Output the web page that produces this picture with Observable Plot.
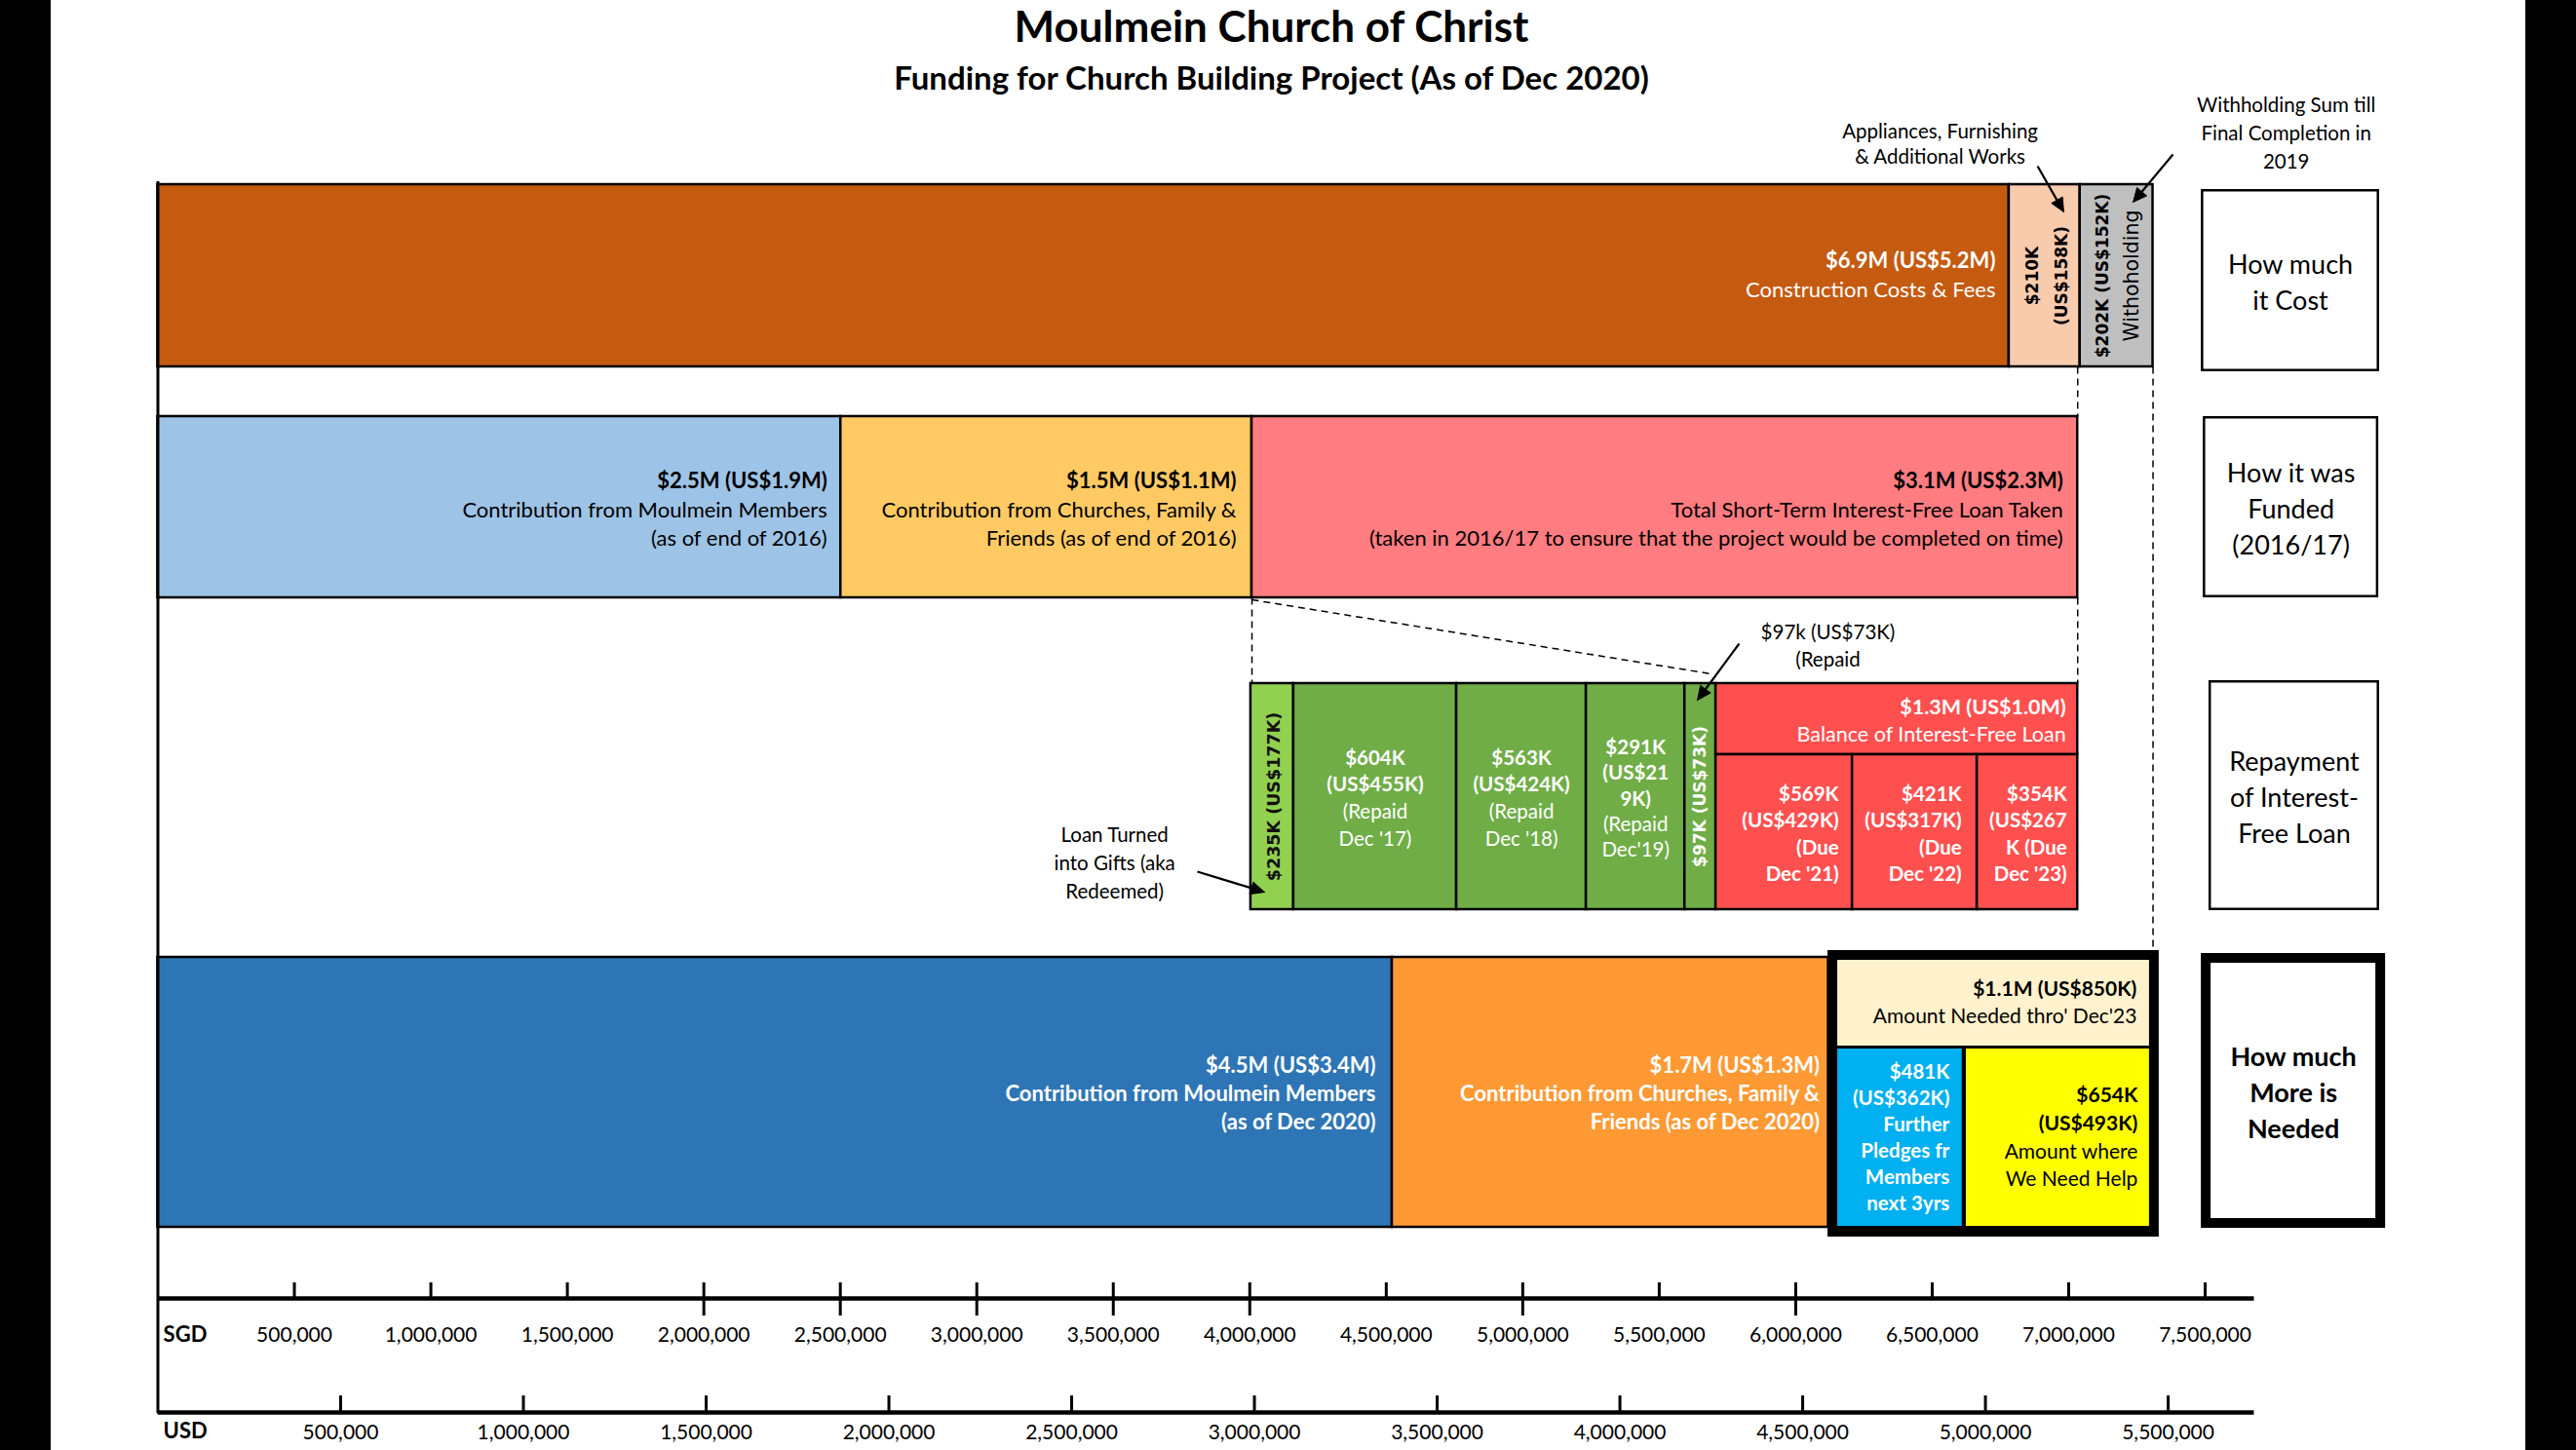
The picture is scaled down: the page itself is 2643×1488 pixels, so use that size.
<!DOCTYPE html>
<html><head><meta charset="utf-8">
<script src="https://cdn.jsdelivr.net/npm/d3@7"></script>
<script src="https://cdn.jsdelivr.net/npm/@observablehq/plot@0.6"></script>
<style>
html,body{margin:0;padding:0;background:#000;}
#page{position:absolute;left:52px;top:0;width:2539px;height:1488px;background:#fff;}
#title{position:relative;left:-17px;height:54px;line-height:54px;text-align:center;font:700 44px Lato, sans-serif;color:#000;}
#subtitle{position:relative;left:-17px;top:5px;height:52px;line-height:52px;text-align:center;font:700 33px Lato, sans-serif;color:#000;}
#chart svg{display:block;}
</style></head>
<body>
<div id="page">
  <div id="title">Moulmein Church of Christ</div>
  <div id="subtitle">Funding for Church Building Project (As of Dec 2020)</div>
  <div id="chart"></div>
</div>
<script>
// ---------------- DATA (SGD; bar edges) ----------------
const sgdTicks = [500000, 1000000, 1500000, 2000000, 2500000, 3000000, 3500000, 4000000,
                  4500000, 5000000, 5500000, 6000000, 6500000, 7000000, 7500000];
const sgdLongTicks = [2000000, 2500000, 3000000, 3500000, 4000000, 5000000, 6000000];
const usdTicks = [500000, 1000000, 1500000, 2000000, 2500000, 3000000, 3500000,
                  4000000, 4500000, 5000000, 5500000];
const usdRate = 1.339;      // SGD per USD (spacing of the two axes)
const axisEnd = 7680000;

const costBars = [
  {id: "construction", x1: 0, x2: 6782000, label: ["$6.9M (US$5.2M)", "Construction Costs & Fees"]},
  {id: "appliances", x1: 6782000, x2: 7042000, label: ["$210K", "(US$158K)"]},
  {id: "withholding", x1: 7042000, x2: 7309000, label: ["$202K (US$152K)", "Withoholding"]}
];
const fundedBars = [
  {id: "members2016", x1: 0, x2: 2502000, label: ["$2.5M (US$1.9M)", "Contribution from Moulmein Members", "(as of end of 2016)"]},
  {id: "churches2016", x1: 2502000, x2: 4008000, label: ["$1.5M (US$1.1M)", "Contribution from Churches, Family &", "Friends (as of end of 2016)"]},
  {id: "loan", x1: 4008000, x2: 7033000, label: ["$3.1M (US$2.3M)", "Total Short-Term Interest-Free Loan Taken", "(taken in 2016/17 to ensure that the project would be completed on time)"]}
];
const repayBars = [
  {id: "gift", part: "full", x1: 4004000, x2: 4161000, label: ["$235K (US$177K)"]},
  {id: "repaid17", part: "full", x1: 4161000, x2: 4758000, label: ["$604K", "(US$455K)", "(Repaid", "Dec '17)"]},
  {id: "repaid18", part: "full", x1: 4758000, x2: 5233000, label: ["$563K", "(US$424K)", "(Repaid", "Dec '18)"]},
  {id: "repaid19", part: "full", x1: 5233000, x2: 5594000, label: ["$291K", "(US$21", "9K)", "(Repaid", "Dec'19)"]},
  {id: "repaid97", part: "full", x1: 5594000, x2: 5708000, label: ["$97K (US$73K)"]},
  {id: "balance", part: "top", x1: 5708000, x2: 7033000, label: ["$1.3M (US$1.0M)", "Balance of Interest-Free Loan"]},
  {id: "due21", part: "bottom", x1: 5708000, x2: 6208000, label: ["$569K", "(US$429K)", "(Due", "Dec '21)"]},
  {id: "due22", part: "bottom", x1: 6208000, x2: 6665000, label: ["$421K", "(US$317K)", "(Due", "Dec '22)"]},
  {id: "due23", part: "bottom", x1: 6665000, x2: 7033000, label: ["$354K", "(US$267", "K (Due", "Dec '23)"]}
];
const neededBars = [
  {id: "members2020", part: "full", x1: 0, x2: 4522000, label: ["$4.5M (US$3.4M)", "Contribution from Moulmein Members", "(as of Dec 2020)"]},
  {id: "churches2020", part: "full", x1: 4522000, x2: 6120000, label: ["$1.7M (US$1.3M)", "Contribution from Churches, Family &", "Friends (as of Dec 2020)"]},
  {id: "neededTotal", part: "top", x1: 6154000, x2: 7296000, label: ["$1.1M (US$850K)", "Amount Needed thro' Dec'23"]},
  {id: "pledges", part: "bottom", x1: 6154000, x2: 6610000, label: ["$481K", "(US$362K)", "Further", "Pledges fr", "Members", "next 3yrs"]},
  {id: "help", part: "bottom", x1: 6625000, x2: 7296000, label: ["$654K", "(US$493K)", "Amount where", "We Need Help"]}
];
const rowTitles = [
  {row: "cost", text: "How much\nit Cost"},
  {row: "funded", text: "How it was\nFunded\n(2016/17)"},
  {row: "repay", text: "Repayment\nof Interest-\nFree Loan"},
  {row: "needed", text: "How much\nMore is\nNeeded"}
];
const notes = [
  {text: "Appliances, Furnishing\n& Additional Works"},
  {text: "Withholding Sum till\nFinal Completion in\n2019"},
  {text: "$97k (US$73K)\n(Repaid"},
  {text: "Loan Turned\ninto Gifts (aka\nRedeemed)"}
];

// ---------------- LAYOUT & STYLE ----------------
const pageTop = 106, pageH = 1488, W = 2539;
const pxPerM = 280.07, x0px = 109.5;
const rows = {
  cost: [189, 376], funded: [427, 613], repay: [701, 933], needed: [982, 1259]
};
const repayPart = {full: [701, 933], top: [701, 774], bottom: [774, 933]};
const neededPart = {full: [982, 1259], top: [985, 1073], bottom: [1076, 1258]};
const neededFrameY = [975, 1269];
const titleBoxes = {
  cost: {x1: 7486000, x2: 8139000, y: [194, 381], w: 2.5, bold: false},
  funded: {x1: 7493000, x2: 8136000, y: [427, 613], w: 2.5, bold: false},
  repay: {x1: 7514000, x2: 8139000, y: [698, 934], w: 2.5, bold: false},
  needed: {x1: 7486000, x2: 8161000, y: [978, 1260], w: 10, bold: true}
};
const noteLayout = [
  {x: 6529000, y: 146, lh: 1.3},
  {x: 7797000, y: 134.5, lh: 1.4},
  {x: 6118000, y: 661, lh: 1.36},
  {x: 3505000, y: 883, lh: 1.41}
];
const arrowLayout = [
  {x1: 6886000, y1: 170, x2: 6982000, y2: 217},
  {x1: 7382000, y1: 158, x2: 7236000, y2: 207},
  {x1: 5793000, y1: 660, x2: 5640000, y2: 718},
  {x1: 3808000, y1: 894, x2: 4054000, y2: 915}
];
const fills = {
  construction: "#C55A11", appliances: "#F8CBAD", withholding: "#BFBFBF",
  members2016: "#9DC3E6", churches2016: "#FFCA64", loan: "#FF7C80",
  gift: "#92D050", repaid17: "#70AD47", repaid18: "#70AD47", repaid19: "#70AD47", repaid97: "#70AD47",
  balance: "#FF5050", due21: "#FF5050", due22: "#FF5050", due23: "#FF5050",
  members2020: "#2E75B6", churches2020: "#FF9933", neededTotal: "#FFF2CC", pledges: "#00B0F0", help: "#FFFF00"
};
const sans = "Lato, 'Open Sans', sans-serif";
const verd = "'DejaVu Sans', Verdana, sans-serif";
const T = (o) => Object.assign({align: "end", color: "#000", bold: 1, size: 22, lh: 29, shift: 0, dx: -14, font: sans}, o);
const textStyle = {
  construction: T({color: "#fff", lh: 30}),
  appliances: T({align: "rotate", bold: 2, size: 17, lh: 30, dxr: 2.5, font: verd}),
  withholding: T({align: "rotate", bold: 1, size: 17, lh: 30, dxr: 1, font: verd, sizes: [17, 20.5]}),
  members2016: T({lh: 29.5, shift: 3}),
  churches2016: T({lh: 29.5, shift: 3, dx: -16}),
  loan: T({lh: 29.5, shift: 3, dx: -15}),
  gift: T({align: "rotate", color: "#111", size: 17.5, font: verd, dxr: 2}),
  repaid17: T({align: "middle", color: "#fff", bold: 2, size: 20.5, lh: 27.7, shift: 2}),
  repaid18: T({align: "middle", color: "#fff", bold: 2, size: 20.5, lh: 27.7, shift: 2}),
  repaid19: T({align: "middle", color: "#fff", bold: 3, size: 20.5, lh: 26.3, shift: 2.5}),
  repaid97: T({align: "rotate", color: "#fff", size: 17, font: verd}),
  balance: T({color: "#fff", size: 21.5, lh: 28, shift: 2.5, dx: -12}),
  due21: T({color: "#fff", bold: 4, size: 20.5, lh: 27.3, shift: 2.5}),
  due22: T({color: "#fff", bold: 4, size: 20.5, lh: 27.3, shift: 2.5, dx: -16}),
  due23: T({color: "#fff", bold: 4, size: 20.5, lh: 27.3, shift: 2.5, dx: -11}),
  members2020: T({color: "#fff", bold: 3, lh: 29, shift: 1.5, dx: -17}),
  churches2020: T({color: "#fff", bold: 3, lh: 29, shift: 1.5, dx: -9}),
  neededTotal: T({size: 21, lh: 28, dx: -13}),
  pledges: T({color: "#fff", bold: 6, size: 20.5, lh: 27, dx: -13}),
  help: T({bold: 2, size: 21, lh: 28.7, dx: -12})
};

// ---------------- MARK HELPERS ----------------
function barRects(bars, band, stroke = true) {
  return Plot.rect(bars, {
    x1: "x1", x2: "x2", y1: d => band(d)[0], y2: d => band(d)[1],
    fill: d => fills[d.id], stroke: stroke ? "#000" : null, strokeWidth: 2.5
  });
}
function barTexts(bars, band) {
  const marks = [];
  for (const b of bars) {
    const s = textStyle[b.id];
    const [y1, y2] = band(b);
    const yc = (y1 + y2) / 2 + s.shift;
    const n = b.label.length;
    b.label.forEach((line, i) => {
      const off = i - (n - 1) / 2;
      const rot = s.align === "rotate";
      marks.push(Plot.text([b], {
        x: s.align === "end" ? "x2" : d => (d.x1 + d.x2) / 2,
        y: () => rot ? yc : yc + off * s.lh,
        dx: s.align === "end" ? s.dx : rot ? off * s.lh + (s.dxr || 0) : 0,
        text: () => line,
        rotate: rot ? -90 : 0,
        textAnchor: s.align === "end" ? "end" : "middle",
        fill: s.color, fontFamily: s.font, fontSize: s.sizes ? s.sizes[i] : s.size,
        fontWeight: i < s.bold ? "bold" : "normal"
      }));
    });
  }
  return marks;
}
const fmt = d3.format(",");
const costBand = () => rows.cost;
const fundedBand = () => rows.funded;
const repayBand = d => repayPart[d.part];
const neededBand = d => neededPart[d.part];
const byId = (arr, id) => arr.find(d => d.id === id);

const loan = byId(fundedBars, "loan");
const withholding = byId(costBars, "withholding");
const repaid97 = byId(repayBars, "repaid97");
const dashes = [
  {x1: loan.x2, y1: rows.cost[1], x2: loan.x2, y2: rows.funded[0]},
  {x1: withholding.x2, y1: rows.cost[1], x2: withholding.x2, y2: neededFrameY[0]},
  {x1: loan.x1, y1: rows.funded[1], x2: loan.x1, y2: rows.repay[0]},
  {x1: loan.x2, y1: rows.funded[1], x2: loan.x2, y2: rows.repay[0]},
  {x1: loan.x1, y1: rows.funded[1] + 2, x2: repaid97.x2 - 18000, y2: rows.repay[0] - 10}
];
const neededTotal = byId(neededBars, "neededTotal");

// arrow shafts + filled heads (geometry in screen px, converted back to data units)
const headLen = 14, headHalf = 6.5;
const shafts = [], heads = [];
arrowLayout.forEach((a, k) => {
  const dxp = (a.x2 - a.x1) * pxPerM / 1e6, dyp = a.y2 - a.y1;
  const L = Math.hypot(dxp, dyp), ux = dxp / L, uy = dyp / L;
  const toX = px => px * 1e6 / pxPerM;
  const bx = a.x2 - toX(ux * headLen), by = a.y2 - uy * headLen;
  shafts.push({x1: a.x1, y1: a.y1, x2: bx, y2: by});
  heads.push({k, x: a.x2, y: a.y2});
  heads.push({k, x: bx + toX(-uy * headHalf), y: by + ux * headHalf});
  heads.push({k, x: bx - toX(-uy * headHalf), y: by - ux * headHalf});
  heads.push({k, x: a.x2, y: a.y2});
});

const marks = [
  // bars
  barRects(costBars, costBand),
  barRects(fundedBars, fundedBand),
  barRects(repayBars, repayBand),
  barRects(neededBars.filter(d => d.part === "full"), neededBand),
  Plot.rect([neededTotal], {x1: "x1", x2: "x2", y1: () => neededFrameY[0], y2: () => neededFrameY[1],
    fill: "#000", insetLeft: -10, insetRight: -10}),
  barRects(neededBars.filter(d => d.part !== "full"), neededBand, false),
  // dashed connectors
  Plot.link(dashes, {x1: "x1", y1: "y1", x2: "x2", y2: "y2", stroke: "#000", strokeWidth: 1.5, strokeDasharray: "7,5"}),
  // bar labels
  ...barTexts(costBars, costBand),
  ...barTexts(fundedBars, fundedBand),
  ...barTexts(repayBars, repayBand),
  ...barTexts(neededBars, neededBand),
  // row title boxes
  ...rowTitles.map(r => {
    const b = titleBoxes[r.row];
    return [
      Plot.rect([r], {x1: () => b.x1, x2: () => b.x2, y1: () => b.y[0], y2: () => b.y[1],
        fill: "#fff", stroke: "#000", strokeWidth: b.w, inset: b.w / 2}),
      Plot.text([r], {x: () => (b.x1 + b.x2) / 2, y: () => (b.y[0] + b.y[1]) / 2,
        text: "text", fontFamily: sans, fontSize: 27, lineHeight: 1.37,
        fontWeight: b.bold ? "bold" : "normal", fill: "#000"})
    ];
  }).flat(),
  // annotations
  ...notes.map((n, i) => Plot.text([n], {x: () => noteLayout[i].x, y: () => noteLayout[i].y, text: "text",
    fontFamily: sans, fontSize: 20.5, lineHeight: noteLayout[i].lh, fill: "#000"})),
  Plot.link(shafts, {x1: "x1", y1: "y1", x2: "x2", y2: "y2", stroke: "#000", strokeWidth: 2.2}),
  Plot.line(heads, {x: "x", y: "y", z: "k", fill: "#000", stroke: "#000", strokeWidth: 1}),
  // left baseline
  Plot.ruleX([0], {y1: () => 186, y2: () => 1450, stroke: "#000", strokeWidth: 3}),
  // SGD axis
  Plot.ruleY([1332], {x1: () => 0, x2: () => axisEnd, y: d => d, stroke: "#000", strokeWidth: 4.5}),
  Plot.ruleX(sgdTicks, {x: d => d, y1: () => 1316, y2: d => sgdLongTicks.includes(d) ? 1350 : 1332, stroke: "#000", strokeWidth: 3}),
  Plot.text(sgdTicks, {x: d => d, y: () => 1370, text: d => fmt(d), fontFamily: sans, fontSize: 21, fill: "#000"}),
  Plot.text(["SGD"], {x: () => 20000, y: () => 1369, text: d => d, textAnchor: "start", fontFamily: sans, fontSize: 22, fontWeight: "bold", fill: "#000"}),
  // USD axis
  Plot.ruleY([1449], {x1: () => 0, x2: () => axisEnd, y: d => d, stroke: "#000", strokeWidth: 4.5}),
  Plot.ruleX(usdTicks, {x: d => d * usdRate, y1: () => 1432, y2: () => 1449, stroke: "#000", strokeWidth: 3}),
  Plot.text(usdTicks, {x: d => d * usdRate, y: () => 1470, text: d => fmt(d), fontFamily: sans, fontSize: 21, fill: "#000"}),
  Plot.text(["USD"], {x: () => 20000, y: () => 1468, text: d => d, textAnchor: "start", fontFamily: sans, fontSize: 22, fontWeight: "bold", fill: "#000"})
];

const chart = Plot.plot({
  width: W,
  height: pageH - pageTop,
  x: {type: "linear", domain: [0, 8.5e6], range: [x0px, x0px + 8.5 * pxPerM], axis: null},
  y: {type: "linear", domain: [pageTop, pageH], range: [0, pageH - pageTop], axis: null},
  style: {background: "transparent", overflow: "visible"},
  marks
});
document.getElementById("chart").appendChild(chart);
</script>
</body></html>
